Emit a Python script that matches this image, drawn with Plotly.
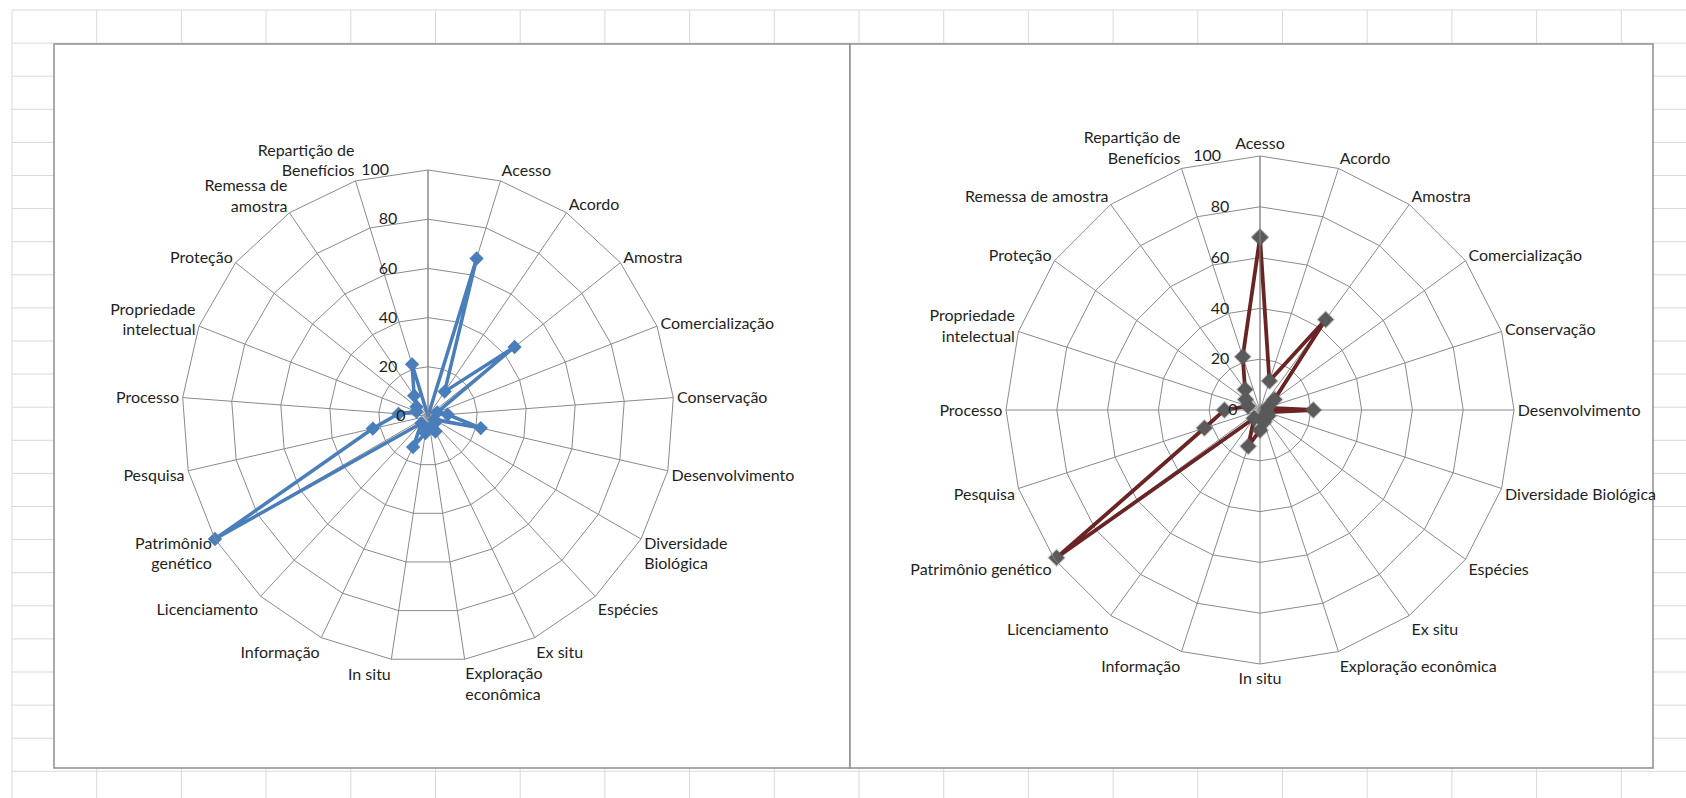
import plotly.graph_objects as go

W, H = 1686, 798

# ---- data -------------------------------------------------------------
categories = [
    "Acesso", "Acordo", "Amostra", "Comercialização", "Conservação",
    "Desenvolvimento", "Diversidade Biológica", "Espécies", "Ex situ",
    "Exploração econômica", "In situ", "Informação", "Licenciamento",
    "Patrimônio genético", "Pesquisa", "Processo", "Propriedade intelectual",
    "Proteção", "Remessa de amostra", "Repartição de Benefícios",
]

# left chart has an extra unlabeled first category
left_categories = [" "] + categories
left_values = [0, 67, 12, 45, 4, 8, 22, 3, 4, 7, 5, 7, 14, 4, 100, 23, 12, 5, 6, 10, 22]
left_ticktext = [
    "", "Acesso", "Acordo", "Amostra", "Comercialização", "Conservação",
    "Desenvolvimento", "Diversidade<br>Biológica", "Espécies", "Ex situ",
    "Exploração<br>econômica", "In situ", "Informação", "Licenciamento",
    "Patrimônio<br>genético", "Pesquisa", "Processo", "Propriedade<br>intelectual",
    "Proteção", "Remessa de<br>amostra", "Repartição de<br>Benefícios",
]

right_values = [68, 12, 44, 7, 3, 21, 3, 4, 3, 5, 8, 15, 4, 99, 23, 14, 5, 7, 10, 22]
right_ticktext = [
    "Acesso", "Acordo", "Amostra", "Comercialização", "Conservação",
    "Desenvolvimento", "Diversidade Biológica", "Espécies", "Ex situ",
    "Exploração econômica", "In situ", "Informação", "Licenciamento",
    "Patrimônio genético", "Pesquisa", "Processo", "Propriedade<br>intelectual",
    "Proteção", "Remessa de amostra", "Repartição de<br>Benefícios",
]

radial_ticks = [0, 20, 40, 60, 80, 100]

# ---- styling ------------------------------------------------------------
FONT = "Lato, 'Open Sans', sans-serif"
TEXT = "#1f1f1f"
GRID = "#8a8a8a"
SHEET_LINE = "#d9d9d9"
BORDER = "#8f8f8f"
NBSP = "\u00a0"

# value labels sit to the left of the vertical axis: pad each centred
# label with trailing non-breaking spaces so the digits end before the line
radial_ticktext = [str(v) + NBSP * (2 * len(str(v)) + 2) for v in radial_ticks]


def px_x(x):
    return x / W


def px_y(y):
    return 1 - y / H


def polar_domain(cx, cy, r):
    return dict(x=[px_x(cx - r), px_x(cx + r)], y=[px_y(cy + r), px_y(cy - r)])


fig = go.Figure()

# left series (blue)
fig.add_trace(go.Scatterpolar(
    r=left_values + left_values[:1],
    theta=left_categories + left_categories[:1],
    mode="lines+markers",
    line=dict(color="#4a7ebb", width=3.5),
    marker=dict(symbol="diamond", size=11, color="#4a7ebb"),
    subplot="polar",
    showlegend=False,
))

# right series (dark red line, grey markers)
fig.add_trace(go.Scatterpolar(
    r=right_values + right_values[:1],
    theta=categories + categories[:1],
    mode="lines+markers",
    line=dict(color="#6a2424", width=3.8),
    marker=dict(symbol="diamond", size=12, color="#5a5a5a",
                line=dict(color="rgba(90,90,90,0.35)", width=2)),
    subplot="polar2",
    showlegend=False,
))


def polar_layout(cats, ticktext, domain):
    return dict(
        domain=domain,
        bgcolor="white",
        gridshape="linear",
        angularaxis=dict(
            type="category",
            categoryorder="array",
            categoryarray=cats,
            tickmode="array",
            tickvals=cats,
            ticktext=ticktext,
            direction="clockwise",
            rotation=90,
            showline=True,
            linecolor=GRID,
            linewidth=1,
            showgrid=True,
            gridcolor=GRID,
            gridwidth=1,
            ticks="",
            tickfont=dict(family=FONT, size=16, color=TEXT),
        ),
        radialaxis=dict(
            range=[0, 100],
            tickmode="array",
            tickvals=radial_ticks,
            ticktext=radial_ticktext,
            angle=90,
            tickangle=90,
            side="counterclockwise",
            showline=True,
            linecolor=GRID,
            linewidth=1,
            showgrid=True,
            gridcolor=GRID,
            gridwidth=1,
            ticks="",
            tickfont=dict(family=FONT, size=16, color=TEXT),
        ),
    )


# ---- spreadsheet backdrop --------------------------------------------------
shapes = []
col_w, row_h = 84.7, 33.1
x = 12.0
while x < W:
    shapes.append(dict(type="line", xref="paper", yref="paper", layer="below",
                       x0=px_x(x), x1=px_x(x), y0=px_y(10), y1=0,
                       line=dict(color=SHEET_LINE, width=1)))
    x += col_w
y = 10.0
while y < H:
    shapes.append(dict(type="line", xref="paper", yref="paper", layer="below",
                       x0=px_x(12), x1=1, y0=px_y(y), y1=px_y(y),
                       line=dict(color=SHEET_LINE, width=1)))
    y += row_h

# chart panels
for x0, x1 in [(54, 850), (850, 1653)]:
    shapes.append(dict(type="rect", xref="paper", yref="paper", layer="below",
                       x0=px_x(x0), x1=px_x(x1), y0=px_y(768), y1=px_y(44),
                       fillcolor="white", line=dict(color=BORDER, width=1.5)))

fig.update_layout(
    width=W, height=H,
    margin=dict(l=0, r=0, t=0, b=0),
    paper_bgcolor="white",
    plot_bgcolor="white",
    showlegend=False,
    shapes=shapes,
    polar=polar_layout(left_categories, left_ticktext, polar_domain(428, 416, 246)),
    polar2=polar_layout(categories, right_ticktext, polar_domain(1260, 410, 254)),
)

fig.write_html("out.html")
